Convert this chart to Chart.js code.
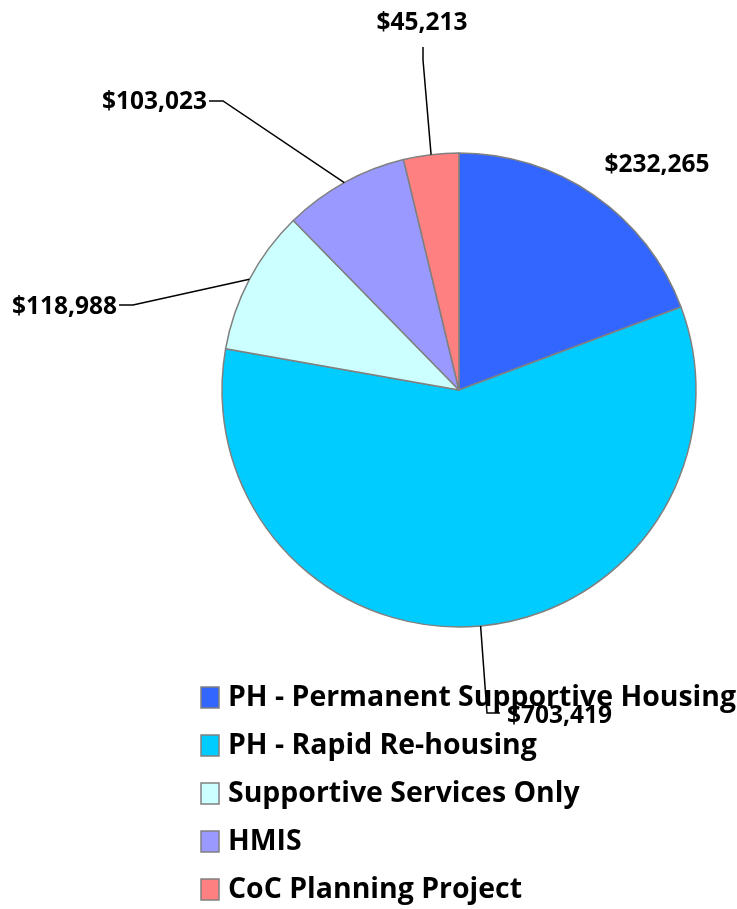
<!DOCTYPE html>
<html>
<head>
<meta charset="utf-8">
<script src="https://cdn.jsdelivr.net/npm/chart.js@4/dist/chart.umd.min.js"></script>
<style>
  body { margin: 0; background: #fff; }
  canvas { display: block; }
</style>
</head>
<body>
<canvas id="chart" width="737" height="909"></canvas>
<script>
// data
const categories = ['PH - Permanent Supportive Housing', 'PH - Rapid Re-housing', 'Supportive Services Only', 'HMIS', 'CoC Planning Project'];
const amounts = [232265, 703419, 118988, 103023, 45213];
const sliceColors = ['#3366FF', '#00CCFF', '#CCFFFF', '#9999FF', '#FF8080'];

const FONT = '"Open Sans", "Liberation Sans", sans-serif';

// where each value label sits; line = elbow + end of leader line
const labelPlaces = [
  { x: 657, y: 165, align: 'center' },
  { x: 507, y: 716, align: 'left', line: [[487, 713], [500, 713]] },
  { x: 117, y: 307, align: 'right', line: [[133, 305], [119, 305]] },
  { x: 207, y: 102, align: 'right', line: [[223, 101], [209, 101]] },
  { x: 422, y: 23, align: 'center', line: [[423, 60], [423, 47]] }
];

// pick a font size so a sample string is about as wide as in the original
function fitSize(ctx, text, width) {
  ctx.font = 'bold 20px ' + FONT;
  return 20 * width / ctx.measureText(text).width;
}

const valueLabels = {
  id: 'valueLabels',
  afterDraw(chart) {
    const ctx = chart.ctx;
    const arcs = chart.getDatasetMeta(0).data;
    ctx.save();
    const legendSize = fitSize(ctx, 'PH - Rapid Re-housing', 309);
    const labelSize = fitSize(ctx, '$45,213', 91);
    // legend
    ctx.font = 'bold ' + legendSize + 'px ' + FONT;
    ctx.textBaseline = 'middle';
    ctx.textAlign = 'left';
    categories.forEach((c, i) => {
      const y = 697 + i * 48;
      ctx.fillStyle = sliceColors[i];
      ctx.fillRect(201, y - 10, 18, 21);
      ctx.strokeStyle = '#808080';
      ctx.lineWidth = 1.5;
      ctx.strokeRect(201, y - 10, 18, 21);
      ctx.fillStyle = '#000';
      ctx.fillText(c, 228, y + 1);
    });
    // leader lines + value labels
    arcs.forEach((arc, i) => {
      const p = labelPlaces[i];
      const mid = (arc.startAngle + arc.endAngle) / 2;
      if (p.line) {
        ctx.beginPath();
        ctx.moveTo(arc.x + Math.cos(mid) * arc.outerRadius, arc.y + Math.sin(mid) * arc.outerRadius);
        p.line.forEach(pt => ctx.lineTo(pt[0], pt[1]));
        ctx.strokeStyle = '#000';
        ctx.lineWidth = 1.5;
        ctx.stroke();
      }
      ctx.font = 'bold ' + labelSize + 'px ' + FONT;
      ctx.textAlign = p.align;
      ctx.fillStyle = '#000';
      ctx.fillText('$' + amounts[i].toLocaleString('en-US'), p.x, p.y);
    });
    ctx.restore();
  }
};

new Chart(document.getElementById('chart'), {
  type: 'pie',
  data: {
    labels: categories,
    datasets: [{
      data: amounts,
      backgroundColor: sliceColors,
      borderColor: '#808080',
      borderWidth: 1.5
    }]
  },
  options: {
    responsive: false,
    animation: false,
    radius: 237,
    layout: { padding: { left: 222, right: 41, top: 153, bottom: 282 } },
    plugins: {
      legend: { display: false },
      tooltip: { enabled: false }
    }
  },
  plugins: [valueLabels]
});
</script>
</body>
</html>
